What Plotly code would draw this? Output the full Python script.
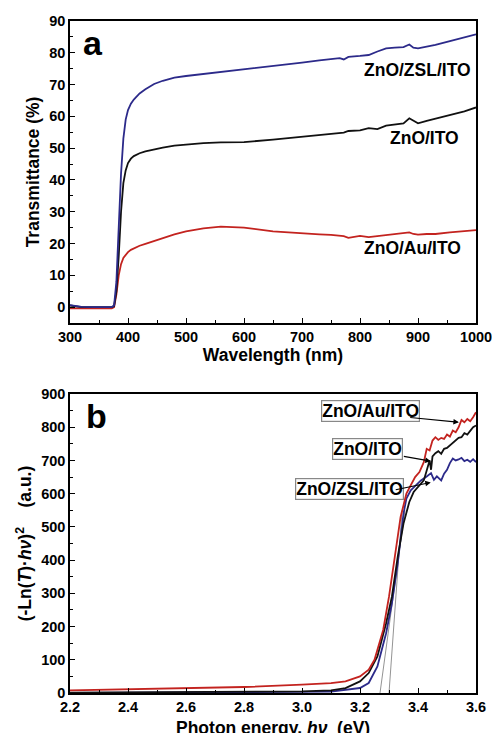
import plotly.graph_objects as go

# ---------------- Panel a data: transmittance ----------------
wl = [300, 320, 340, 360, 372, 376, 380, 384, 388, 392, 396, 400, 405, 410, 420, 430,
      445, 460, 480, 500, 530, 560, 600, 650, 700, 730, 750, 765, 772, 780, 800, 815,
      830, 845, 860, 875, 885, 892, 900, 915, 930, 955, 980, 1000]
t_zsl = [0.6, 0.1, 0, 0, 0, 0.5, 8, 25, 42, 53, 59, 62, 64, 65.3, 67.2, 68.5,
         70.2, 71.2, 72.2, 72.7, 73.3, 74.0, 74.8, 75.8, 76.9, 77.6, 78.1, 78.3, 77.9, 78.7, 79.0, 79.3,
         80.4, 81.4, 81.6, 81.8, 82.6, 81.6, 81.4, 81.9, 82.5, 83.7, 84.8, 85.8]
t_zno = [0.5, 0, 0, 0, 0, 0.3, 5, 16, 30, 39, 43, 45.3, 46.7, 47.5, 48.4, 49.0,
         49.7, 50.2, 50.8, 51.2, 51.6, 51.8, 51.9, 52.7, 53.6, 54.2, 54.6, 55.0, 54.9, 55.4, 55.6, 56.3,
         56.0, 57.1, 57.4, 57.8, 59.4, 58.6, 57.8, 58.6, 59.3, 60.4, 61.6, 62.8]
t_au = [-0.4, -0.4, -0.4, -0.4, -0.4, 0, 4, 10, 13.5, 15.5, 16.5, 17.3, 18.0, 18.5, 19.3, 19.9,
        20.8, 21.7, 22.9, 23.8, 24.8, 25.3, 25.0, 23.8, 23.1, 22.9, 22.7, 22.3, 22.3, 21.8, 22.4, 22.0,
        22.3, 22.8, 23.0, 23.3, 23.5, 23.0, 22.8, 23.0, 23.0, 23.5, 23.9, 24.2]

# ---------------- Panel b data: Tauc plot ----------------
e_au = [2.2, 2.4, 2.6, 2.8, 3.0, 3.1, 3.15, 3.2, 3.23, 3.25, 3.28, 3.3, 3.32, 3.34, 3.36, 3.375,
        3.39, 3.405, 3.42, 3.43, 3.44, 3.45, 3.46, 3.47, 3.48, 3.49, 3.5, 3.51, 3.52, 3.53, 3.54,
        3.55, 3.56, 3.57, 3.58, 3.59, 3.6]
v_au = [8, 11, 15, 18, 25, 30, 35, 50, 70, 100, 190, 290, 410, 530, 600, 625,
        650, 665, 695, 735, 730, 760, 770, 762, 768, 765, 778, 772, 790, 785, 800,
        822, 815, 825, 818, 830, 845]
e_zno = [2.2, 2.5, 2.8, 3.0, 3.1, 3.15, 3.2, 3.23, 3.26, 3.29, 3.31, 3.33, 3.35, 3.37, 3.385, 3.4,
         3.42, 3.43, 3.44, 3.445, 3.45, 3.46, 3.47, 3.48, 3.49, 3.5, 3.52, 3.54, 3.55, 3.56, 3.57,
         3.58, 3.59, 3.6]
v_zno = [1, 2, 3, 5, 8, 15, 35, 60, 110, 210, 290, 410, 510, 575, 605, 620,
         640, 670, 700, 672, 712, 722, 728, 720, 735, 738, 752, 768, 770, 782, 778,
         790, 800, 805]
e_zsl = [2.2, 2.6, 3.0, 3.1, 3.2, 3.23, 3.26, 3.29, 3.31, 3.33, 3.35, 3.36, 3.375, 3.39, 3.41, 3.43,
         3.445, 3.455, 3.465, 3.48, 3.49, 3.5, 3.51, 3.52, 3.53, 3.54, 3.55, 3.56, 3.57, 3.58, 3.59, 3.6]
v_zsl = [0, 1, 2, 4, 15, 30, 80, 180, 270, 390, 540, 585, 610, 622, 640, 652,
         662, 642, 652, 640, 660, 672, 692, 706, 700, 703, 708, 698, 702, 696, 704, 695]

# tangent (band-gap extrapolation) lines
tan1_e = [3.269, 3.355]
tan1_v = [0, 550]
tan2_e = [3.300, 3.345]
tan2_v = [0, 550]

names = ["ZnO/ZSL/ITO", "ZnO/ITO", "ZnO/Au/ITO"]
BLUE = "#2c2a8a"
BLACK = "#111111"
RED = "#c3231f"
FONT = "Liberation Sans"

fig = go.Figure()
for y, c, n in [(t_au, RED, names[2]), (t_zno, BLACK, names[1]), (t_zsl, BLUE, names[0])]:
    fig.add_trace(go.Scatter(x=wl, y=y, mode="lines", name=n, xaxis="x", yaxis="y",
                             line=dict(color=c, width=1.8), showlegend=False))

for x, y in [(tan1_e, tan1_v), (tan2_e, tan2_v)]:
    fig.add_trace(go.Scatter(x=x, y=y, mode="lines", xaxis="x2", yaxis="y2",
                             line=dict(color="#777777", width=0.8), showlegend=False))
for x, y, c, n in [(e_zsl, v_zsl, BLUE, names[0]), (e_zno, v_zno, BLACK, names[1]), (e_au, v_au, RED, names[2])]:
    fig.add_trace(go.Scatter(x=x, y=y, mode="lines", name=n, xaxis="x2", yaxis="y2",
                             line=dict(color=c, width=1.8), showlegend=False))

tickfont = dict(family=FONT, size=14.5, color="black", weight="bold")
titlefont = dict(family=FONT, size=17.5, color="black", weight="bold")
common = dict(showline=True, linecolor="black", linewidth=1.5, mirror=True,
              ticks="inside", ticklen=5, tickwidth=1.3, tickcolor="black",
              showgrid=False, zeroline=False, tickfont=tickfont, automargin=False,
              ticklabeloverflow="allow")

fig.update_layout(
    width=492, height=733,
    margin=dict(l=70, r=16, t=21, b=40),
    plot_bgcolor="white", paper_bgcolor="white",
    xaxis=dict(domain=[0, 1], anchor="y", range=[300, 1000], dtick=100, tick0=300,
               minor=dict(dtick=50, ticks="inside", ticklen=3, tickcolor="black"),
               title=dict(text="Wavelength (nm)", font=titlefont, standoff=4), **common),
    yaxis=dict(domain=[0.5506, 1], anchor="x", range=[-5, 90], dtick=10, tick0=0,
               minor=dict(dtick=5, ticks="inside", ticklen=3, tickcolor="black"),
               title=dict(text="Transmittance (%)", font=titlefont, standoff=5), **common),
    xaxis2=dict(domain=[0, 1], anchor="y2", range=[2.2, 3.6], dtick=0.2, tick0=2.2, tickformat=".1f",
                minor=dict(dtick=0.1, ticks="inside", ticklen=3, tickcolor="black"), **common),
    yaxis2=dict(domain=[0, 0.4449], anchor="x2", range=[0, 900], dtick=100, tick0=0,
                minor=dict(dtick=50, ticks="inside", ticklen=3, tickcolor="black"),
                title=dict(text="(-Ln(<i>T</i>)·<i>hν</i>)<sup>2</sup>    (a.u.)", font=titlefont, standoff=5),
                **common),
)

ann = []
# bottom axis title of panel b (partly cut by the lower edge, as in the original)
ann.append(dict(x=0.5, y=-0.052, xref="paper", yref="paper", yanchor="middle",
                text="Photon energy, <i>hν</i>  (eV)", showarrow=False, font=titlefont))
# panel letters
ann.append(dict(x=339, y=83, xref="x", yref="y", text="a", showarrow=False,
                font=dict(family=FONT, size=34, color="black", weight="bold")))
ann.append(dict(x=2.29, y=835, xref="x2", yref="y2", text="b", showarrow=False,
                font=dict(family=FONT, size=34, color="black", weight="bold")))
# panel a labels
labfont = dict(family=FONT, size=17.5, color="black", weight="bold")
ann.append(dict(x=995, y=74.6, xref="x", yref="y", text=names[0], showarrow=False, xanchor="right", font=labfont))
ann.append(dict(x=974, y=53.2, xref="x", yref="y", text=names[1], showarrow=False, xanchor="right", font=labfont))
ann.append(dict(x=978, y=18.5, xref="x", yref="y", text=names[2], showarrow=False, xanchor="right", font=labfont))
# panel b boxed labels
for txt, xc, yc in [(names[2], 3.237, 849), (names[1], 3.227, 736), (names[0], 3.164, 613)]:
    ann.append(dict(x=xc, y=yc, xref="x2", yref="y2", text=txt, showarrow=False, font=labfont,
                    bordercolor="#888888", borderwidth=1.2, borderpad=0, bgcolor="white"))
# panel b arrows
for (x0, y0, x1, y1) in [(3.368, 830, 3.541, 815), (3.346, 713, 3.444, 698), (3.318, 611, 3.444, 634)]:
    ann.append(dict(x=x1, y=y1, ax=x0, ay=y0, xref="x2", yref="y2", axref="x2", ayref="y2",
                    text="", showarrow=True, arrowhead=2, arrowsize=1, arrowwidth=1.1, arrowcolor="black"))
fig.update_layout(annotations=ann)

fig.write_html("out.html", config={"displayModeBar": False},
               post_script="document.body.style.margin='0px';document.body.style.overflow='hidden';")
